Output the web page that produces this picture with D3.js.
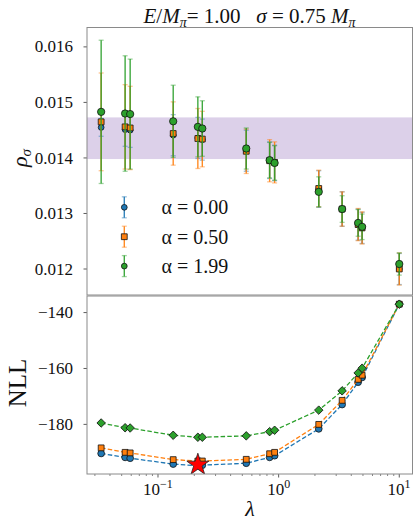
<!DOCTYPE html>
<html>
<head>
<meta charset="utf-8">
<script src="https://cdn.jsdelivr.net/npm/d3@7"></script>
<style>
  html, body { margin: 0; padding: 0; background: #fff; }
  svg { display: block; }
  text { font-family: "Liberation Serif", "DejaVu Serif", serif; fill: #111; }
</style>
</head>
<body>
<svg id="chart" width="413" height="522"></svg>
<script>
// Regularisation strengths
const lambdas = [0.0338, 0.0534, 0.0588, 0.1337, 0.214, 0.233, 0.539, 0.842, 0.926, 2.15, 3.36, 4.56, 4.92, 10.0];

// Smeared spectral density rho_sigma for each alpha, with uncertainties
const rhoA000 = [0.01455, 0.01451, 0.01450, 0.01441, 0.01436, 0.01433, 0.01413, 0.01396, 0.01391, 0.01344, 0.01308, 0.01280, 0.01274, 0.01200];
const errA000 = [0.00016, 0.00030, 0.00031, 0.00037, 0.00037, 0.00037, 0.00037, 0.00033, 0.00032, 0.00033, 0.00031, 0.00028, 0.00028, 0.00028];
const rhoA050 = [0.01465, 0.01456, 0.01454, 0.01444, 0.01435, 0.01434, 0.01412, 0.01395, 0.01392, 0.01345, 0.01308, 0.01280, 0.01274, 0.01200];
const errA050 = [0.00088, 0.00076, 0.00075, 0.00057, 0.00054, 0.00050, 0.00040, 0.00038, 0.00037, 0.00033, 0.00031, 0.00029, 0.00029, 0.00029];
const rhoA199 = [0.01483, 0.01480, 0.01479, 0.01466, 0.01456, 0.01453, 0.01417, 0.01396, 0.01391, 0.01339, 0.01308, 0.01283, 0.01276, 0.01209];
const errA199 = [0.00129, 0.00104, 0.00099, 0.00065, 0.00054, 0.00050, 0.00037, 0.00032, 0.00031, 0.00027, 0.00024, 0.00024, 0.00023, 0.00020];

// Negative log-likelihood for each alpha
const nllA000 = [-190.4, -191.8, -192.1, -194.2, -194.8, -194.6, -193.9, -191.8, -191.2, -181.6, -172.9, -164.9, -163.2, -137.0];
const nllA050 = [-188.4, -190.0, -190.2, -192.6, -193.1, -193.1, -192.5, -190.5, -190.0, -180.0, -171.4, -163.9, -162.4, -137.0];
const nllA199 = [-179.5, -181.2, -181.3, -183.9, -184.6, -184.6, -184.1, -182.6, -182.1, -174.9, -168.0, -161.6, -159.9, -137.0];

// Final estimate band for rho_sigma
const bandRange = [0.01398, 0.01473];

const legendLabels = ["α = 0.00", "α = 0.50", "α = 1.99"];
const rhoTicks = [0.012, 0.013, 0.014, 0.015, 0.016];
const nllTicks = [-180, -160, -140];
const lambdaTicks = [0.1, 1, 10];
const lambdaTickExp = ["−1", "0", "1"];

const series = [
  { rho: rhoA000, err: errA000, nll: nllA000, color: "#1f77b4", label: legendLabels[0], topShape: "circle", botShape: "botCircle" },
  { rho: rhoA050, err: errA050, nll: nllA050, color: "#ff7f0e", label: legendLabels[1], topShape: "square", botShape: "square" },
  { rho: rhoA199, err: errA199, nll: nllA199, color: "#2ca02c", label: legendLabels[2], topShape: "circle2", botShape: "diamond" }
];

const svg = d3.select("#chart");
const spine = "#8a8a8a";

const L = 87, R = 412.5;
const topP = { t: 27.5, b: 295 };
const botP = { t: 296, b: 474 };

const x = d3.scaleLog().domain([0.0258, 12.87]).range([L, R]);
const yTop = d3.scaleLinear().domain([0.011532, 0.016349]).range([topP.b, topP.t]);
const yBot = d3.scaleLinear().domain([-197.75, -134.07]).range([botP.b, botP.t]);

// marker shapes; the diamond is a square turned by 45 degrees
const shapes = {
  circle: { sym: d3.symbol().type(d3.symbolCircle).size(26), rot: 0 },
  circle2: { sym: d3.symbol().type(d3.symbolCircle).size(42), rot: 0 },
  square: { sym: d3.symbol().type(d3.symbolSquare).size(34), rot: 0 },
  diamond: { sym: d3.symbol().type(d3.symbolSquare).size(36), rot: 45 },
  botCircle: { sym: d3.symbol().type(d3.symbolCircle).size(36), rot: 0 }
};
function drawMarker(g, shape, cx, cy, color) {
  const s = shapes[shape];
  g.append("path").attr("d", s.sym()).attr("transform", `translate(${cx},${cy}) rotate(${s.rot})`)
    .attr("fill", color).attr("stroke", "#111").attr("stroke-width", 0.8);
}

// ---------- top panel ----------
const gTop = svg.append("g");
gTop.append("defs").append("clipPath").attr("id", "clipTop")
  .append("rect").attr("x", L).attr("y", topP.t).attr("width", R - L).attr("height", topP.b - topP.t);

gTop.append("rect")
  .attr("x", L).attr("width", R - L)
  .attr("y", yTop(bandRange[1])).attr("height", yTop(bandRange[0]) - yTop(bandRange[1]))
  .attr("fill", "#dcd0e9");

const plotTop = gTop.append("g").attr("clip-path", "url(#clipTop)");
function errBar(g, cx, y0, y1, color) {
  g.append("line").attr("x1", cx).attr("x2", cx).attr("y1", y1).attr("y2", y0)
    .attr("stroke", color).attr("stroke-width", 1.4).attr("opacity", 0.9);
  [y0, y1].forEach(yy => g.append("line").attr("x1", cx - 2.5).attr("x2", cx + 2.5).attr("y1", yy).attr("y2", yy)
    .attr("stroke", color).attr("stroke-width", 1.3).attr("opacity", 0.45));
}
series.forEach(s => {
  const g = plotTop.append("g");
  lambdas.forEach((lam, i) => errBar(g, x(lam), yTop(s.rho[i] - s.err[i]), yTop(s.rho[i] + s.err[i]), s.color));
  lambdas.forEach((lam, i) => drawMarker(g, s.topShape, x(lam), yTop(s.rho[i]), s.color));
});

// legend
const legX = 124.3, legY0 = 207.3, legDy = 29.4;
series.forEach((s, k) => {
  const cy = legY0 + k * legDy;
  const g = gTop.append("g");
  errBar(g, legX, cy + 10.5, cy - 10.5, s.color);
  drawMarker(g, s.topShape === "circle2" ? "circle" : s.topShape, legX, cy, s.color);
  g.append("text").attr("x", 161.5).attr("y", cy + 7).attr("font-size", 20).text(s.label);
});

// y axis (top)
rhoTicks.forEach(v => {
  const yy = yTop(v);
  gTop.append("line").attr("x1", L - 3.5).attr("x2", L).attr("y1", yy).attr("y2", yy)
    .attr("stroke", "#333").attr("stroke-width", 0.8);
  gTop.append("text").attr("x", 73).attr("y", yy + 5.6).attr("text-anchor", "end")
    .attr("font-size", 17).text(d3.format(".3f")(v));
});
gTop.append("rect").attr("x", L).attr("y", topP.t).attr("width", R - L).attr("height", topP.b - topP.t)
  .attr("fill", "none").attr("stroke", spine).attr("stroke-width", 1);

gTop.append("text").attr("transform", "translate(27,158) rotate(-90)").attr("text-anchor", "middle")
  .attr("font-size", 22)
  .call(t => {
    t.append("tspan").attr("font-style", "italic").text("ρ");
    t.append("tspan").attr("font-style", "italic").attr("font-size", 15).attr("dy", 4).text("σ");
  });

// title
svg.append("text").attr("x", 249.5).attr("y", 23).attr("text-anchor", "middle")
  .attr("font-size", 21).style("white-space", "pre")
  .call(t => {
    t.append("tspan").attr("font-style", "italic").text("E");
    t.append("tspan").text("/");
    t.append("tspan").attr("font-style", "italic").text("M");
    t.append("tspan").attr("font-style", "italic").attr("font-size", 14).attr("dy", 4).text("π");
    t.append("tspan").attr("dy", -4).text("= 1.00   ");
    t.append("tspan").attr("font-style", "italic").text("σ");
    t.append("tspan").text(" = 0.75 ");
    t.append("tspan").attr("font-style", "italic").text("M");
    t.append("tspan").attr("font-style", "italic").attr("font-size", 14).attr("dy", 4).text("π");
  });

// ---------- bottom panel ----------
const gBot = svg.append("g");
gBot.append("defs").append("clipPath").attr("id", "clipBot")
  .append("rect").attr("x", L).attr("y", botP.t).attr("width", R - L).attr("height", botP.b - botP.t);
const plotBot = gBot.append("g").attr("clip-path", "url(#clipBot)");

const line = d3.line().x((d, i) => x(lambdas[i])).y(d => yBot(d));
series.forEach(s => {
  plotBot.append("path").attr("d", line(s.nll)).attr("fill", "none")
    .attr("stroke", s.color).attr("stroke-width", 1.3).attr("stroke-dasharray", "4.5,2.2");
  s.nll.forEach((v, i) => drawMarker(plotBot, s.botShape, x(lambdas[i]), yBot(v), s.color));
});

// best (minimum NLL) point
const bestIdx = d3.minIndex(nllA000);
plotBot.append("path")
  .attr("d", d3.symbol().type(d3.symbolStar).size(150)())
  .attr("transform", `translate(${x(lambdas[bestIdx])},${yBot(nllA000[bestIdx]) - 1})`)
  .attr("fill", "#ff0000").attr("stroke", "#222").attr("stroke-width", 0.8);

// y axis (bottom)
nllTicks.forEach(v => {
  const yy = yBot(v);
  gBot.append("line").attr("x1", L - 3.5).attr("x2", L).attr("y1", yy).attr("y2", yy)
    .attr("stroke", "#333").attr("stroke-width", 0.8);
  gBot.append("text").attr("x", 73).attr("y", yy + 5.6).attr("text-anchor", "end")
    .attr("font-size", 17).text("−" + Math.abs(v));
});

// x axis (log) with minor ticks
const minor = [];
for (let e = -2; e <= 1; e++) for (let m = 2; m <= 9; m++) {
  const v = m * Math.pow(10, e);
  if (v > x.domain()[0] && v < x.domain()[1]) minor.push(v);
}
minor.forEach(v => gBot.append("line").attr("x1", x(v)).attr("x2", x(v)).attr("y1", botP.b).attr("y2", botP.b + 2)
  .attr("stroke", "#333").attr("stroke-width", 0.6));
lambdaTicks.forEach((v, k) => {
  const xx = x(v);
  gBot.append("line").attr("x1", xx).attr("x2", xx).attr("y1", botP.b).attr("y2", botP.b + 3.5)
    .attr("stroke", "#333").attr("stroke-width", 0.8);
  const t = gBot.append("text").attr("x", Math.min(xx, 399)).attr("y", 495).attr("text-anchor", "middle").attr("font-size", 17);
  t.append("tspan").text("10");
  t.append("tspan").attr("font-size", 12).attr("dy", -7).text(lambdaTickExp[k]);
});

gBot.append("rect").attr("x", L).attr("y", botP.t).attr("width", R - L).attr("height", botP.b - botP.t)
  .attr("fill", "none").attr("stroke", spine).attr("stroke-width", 1);

gBot.append("text").attr("transform", "translate(26,383) rotate(-90)").attr("text-anchor", "middle")
  .attr("font-size", 25).text("NLL");
gBot.append("text").attr("x", 250).attr("y", 516).attr("text-anchor", "middle")
  .attr("font-size", 22).attr("font-style", "italic").text("λ");
</script>
</body>
</html>
